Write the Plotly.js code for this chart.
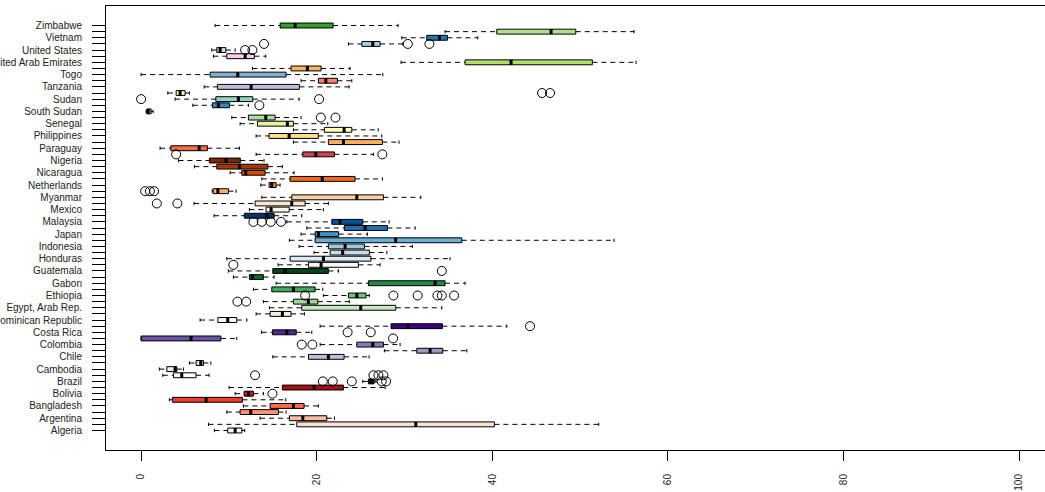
<!DOCTYPE html>
<html>
<head>
<meta charset="utf-8">
<script src="https://cdn.plot.ly/plotly-3.0.1.min.js"></script>
<style>html,body{margin:0;padding:0;background:#fff;overflow:hidden}</style>
</head>
<body>
<div id="chart" style="width:1045px;height:492px"></div>
<script>
// Rows listed bottom (1) to top (67); unlabeled rows have empty tick text
const labels = [
  "Algeria","","Argentina","","Bangladesh","","Bolivia","","Brazil","",
  "Cambodia","","Chile","","Colombia","","Costa Rica","","Dominican Republic","",
  "Egypt, Arab Rep.","","Ethiopia","","Gabon","","Guatemala","","Honduras","",
  "Indonesia","","Japan","","Malaysia","","Mexico","","Myanmar","",
  "Netherlands","","Nicaragua","","Nigeria","","Paraguay","","Philippines","",
  "Senegal","","South Sudan","","Sudan","","Tanzania","","Togo","",
  "United Arab Emirates","","United States","","Vietnam","","Zimbabwe"
];

const lowWhisker = [
  8.35,7.67,13.55,9.76,11.65,3.22,10.71,10.02,25.25,2.47,
  2.08,5.5,15.0,27.71,20.39,0,13.73,20.39,6.72,13.1,
  14.61,13.93,20.76,12.79,15.38,10.51,9.94,15.6,9.76,19.7,
  18.0,16.89,18.22,18.87,16.6,8.31,12.33,6.04,13.75,8.1,
  13.63,13.75,10.14,6.07,4.25,13.1,2.16,17.35,13.1,17.35,
  11.28,10.33,0.57,5.89,3.87,3.04,7.18,18.22,0,12.68,
  29.61,8.24,8.05,23.61,29.69,34.62,8.43
];
const quartile1 = [
  9.87,17.73,16.89,11.28,14.69,3.56,11.73,16.09,25.89,3.68,
  2.93,6.26,19.06,31.4,24.57,0,14.96,28.47,8.74,14.69,
  18.3,17.35,23.61,14.89,25.89,12.33,15.0,19.06,16.97,21.53,
  21.33,19.82,19.82,23.15,21.72,11.76,14.23,12.98,17.16,8.2,
  14.58,16.97,11.47,8.62,7.78,18.42,3.38,21.33,14.58,20.88,
  13.25,12.22,0.65,8.12,8.51,3.99,8.69,20.19,7.86,17.08,
  36.9,9.76,8.62,25.14,32.54,40.51,15.83
];
const medianVal = [
  10.71,31.29,18.42,12.49,17.35,7.4,12.22,19.7,26.2,4.63,
  3.87,6.8,21.33,32.92,26.39,5.69,16.6,30.38,9.87,16.09,
  25.02,19.05,24.57,17.35,33.49,12.68,16.4,20.5,20.77,22.96,
  23.23,29.0,20.2,25.51,22.67,14.32,14.81,17.16,24.57,8.74,
  14.89,20.63,11.92,11.2,9.68,19.9,6.61,23.05,16.86,23.12,
  16.66,14.2,0.8,8.8,11.08,4.44,12.53,21.04,11.01,18.94,
  42.14,11.85,9.0,26.39,33.98,46.7,17.54
];
const quartile3 = [
  11.47,40.24,21.15,15.64,18.56,11.54,12.79,23.04,26.54,6.26,
  4.07,7.1,23.12,34.36,27.6,9.08,17.67,34.32,10.9,17.08,
  29.01,20.13,25.63,19.82,34.62,13.93,21.33,24.75,26.17,26.0,
  25.43,36.53,22.5,28.05,25.25,15.15,16.87,18.68,27.6,9.95,
  15.38,24.37,14.12,14.44,11.3,22.02,7.55,27.48,20.19,24.0,
  17.35,15.26,1.14,10.06,12.72,5.01,18.03,22.36,16.51,20.5,
  51.4,12.9,9.65,27.22,34.89,49.51,21.87
];
const highWhisker = [
  11.8,52.13,22.02,16.51,20.19,16.48,13.93,27.79,26.76,7.74,
  4.82,7.94,25.97,37.1,29.5,10.9,19.44,41.65,12.04,18.6,
  34.25,23.72,26.0,20.69,36.9,15.15,22.47,27.22,35.19,27.99,
  30.9,53.87,25.78,31.21,28.25,18.3,20.76,21.33,31.86,10.82,
  15.83,27.48,17.43,16.09,14.0,26.46,11.2,29.38,27.41,27.0,
  21.26,18.22,1.37,12.22,18.0,5.5,23.69,24.0,27.53,23.8,
  56.38,14.2,10.71,29.81,38.35,56.15,29.27
];

const outlierRow = [
  7, 9,9,9,9,9, 10,10,10,10, 15,15, 16, 17,17, 18, 22,22,
  23,23,23,23,23,23, 27, 28, 35,35,35,35, 38,38, 40,40,40,
  46,46, 52,52, 54, 55,55, 56,56, 63,63, 64,64,64
];
const outlierValue = [
  14.96, 20.7,21.83,24.0,27.41,27.9, 12.98,26.46,27.03,27.6, 18.3,19.51, 28.7, 23.52,26.16, 44.3, 10.97,11.96,
  18.68,28.74,31.5,33.75,34.25,35.65, 34.25, 10.51, 12.79,13.74,14.77,15.94, 1.79,4.13, 0.46,1.0,1.48,
  3.99,27.48, 20.47,22.14, 13.47, 0,20.27, 45.67,46.58, 11.85,12.68, 14.0,30.38,32.84
];

const boxColors = [
  // Reds
  "#FFF5F0","#FEE0D2","#FCBBA1","#FC9272","#FB6A4A","#EF3B2C","#CB181D","#A50F15","#67000D",
  // Purples
  "#FCFBFD","#EFEDF5","#DADAEB","#BCBDDC","#9E9AC8","#807DBA","#6A51A3","#54278F","#3F007D",
  // Greens
  "#F7FCF5","#E5F5E0","#C7E9C0","#A1D99B","#74C476","#41AB5D","#238B45","#006D2C","#00441B",
  // Blues
  "#F7FBFF","#DEEBF7","#C6DBEF","#9ECAE1","#6BAED6","#4292C6","#2171B5","#08519C","#08306B",
  // Oranges
  "#FFF5EB","#FEE6CE","#FDD0A2","#FDAE6B","#FD8D3C","#F16913","#D94801","#A63603","#7F2704",
  // Spectral
  "#D53E4F","#F46D43","#FDAE61","#FEE08B","#FFFFBF","#E6F598","#ABDDA4","#66C2A5","#3288BD",
  // Set3
  "#8DD3C7","#FFFFB3","#BEBADA","#FB8072","#80B1D3","#FDB462","#B3DE69","#FCCDE5","#D9D9D9",
  // Paired
  "#A6CEE3","#1F78B4","#B2DF8A","#33A02C"
];

const positions = labels.map((_, i) => i + 1);
const BOX_W = 0.8, CAP_H = 0.27;

const traces = [];
// whiskers (dashed), caps, medians
const wx = [], wy = [], cx = [], cy = [], mx = [], my = [];
positions.forEach((p, i) => {
  if (lowWhisker[i] < quartile1[i]) { wx.push(lowWhisker[i], quartile1[i], null); wy.push(p, p, null); }
  if (highWhisker[i] > quartile3[i]) { wx.push(quartile3[i], highWhisker[i], null); wy.push(p, p, null); }
  cx.push(lowWhisker[i], lowWhisker[i], null, highWhisker[i], highWhisker[i], null);
  cy.push(p - CAP_H, p + CAP_H, null, p - CAP_H, p + CAP_H, null);
  mx.push(medianVal[i], medianVal[i], null);
  my.push(p - BOX_W / 2, p + BOX_W / 2, null);
});
traces.push({type:'scatter', mode:'lines', x:wx, y:wy, line:{color:'#000', width:1, dash:'5px,4px'}, hoverinfo:'skip', showlegend:false});
traces.push({type:'scatter', mode:'lines', x:cx, y:cy, line:{color:'#000', width:1}, hoverinfo:'skip', showlegend:false});

positions.forEach((p, i) => {
  traces.push({
    type:'box', orientation:'h', y:[p],
    q1:[quartile1[i]], median:[medianVal[i]], q3:[quartile3[i]],
    lowerfence:[quartile1[i]], upperfence:[quartile3[i]],
    width:BOX_W, whiskerwidth:0, boxpoints:false,
    fillcolor:boxColors[i], line:{color:'#000', width:1},
    hoverinfo:'skip', showlegend:false
  });
});

traces.push({type:'scatter', mode:'lines', x:mx, y:my, line:{color:'#000', width:3}, hoverinfo:'skip', showlegend:false});
traces.push({type:'scatter', mode:'markers', x:outlierValue, y:outlierRow,
  marker:{symbol:'circle-open', size:9, color:'#000', line:{width:1, color:'#000'}}, hoverinfo:'skip', showlegend:false});

const layout = {
  width:1045, height:492,
  margin:{l:106, r:0, t:6, b:42},
  paper_bgcolor:'#fff', plot_bgcolor:'#fff',
  showlegend:false,
  boxmode:'overlay',
  font:{family:'"Liberation Sans", Arial, Helvetica, sans-serif', size:10, color:'#222'},
  xaxis:{
    range:[-4, 102.96], tickvals:[0,20,40,60,80,100], ticktext:['0','20','40','60','80','100'],
    ticks:'outside', ticklen:10, tickwidth:1, tickcolor:'#000', tickangle:-90,
    ticklabelstandoff:9,
    showgrid:false, zeroline:false, showline:true, linecolor:'#000', linewidth:1, mirror:true,
    automargin:false, fixedrange:true
  },
  yaxis:{
    range:[-2.18, 70.18], tickvals:positions, ticktext:labels,
    ticks:'outside', ticklen:13, tickwidth:1, tickcolor:'#000',
    ticklabelstandoff:8,
    showgrid:false, zeroline:false, showline:true, linecolor:'#000', linewidth:1, mirror:false,
    automargin:false, fixedrange:true
  }
};

Plotly.newPlot('chart', traces, layout, {displayModeBar:false, staticPlot:true});
</script>
</body>
</html>
